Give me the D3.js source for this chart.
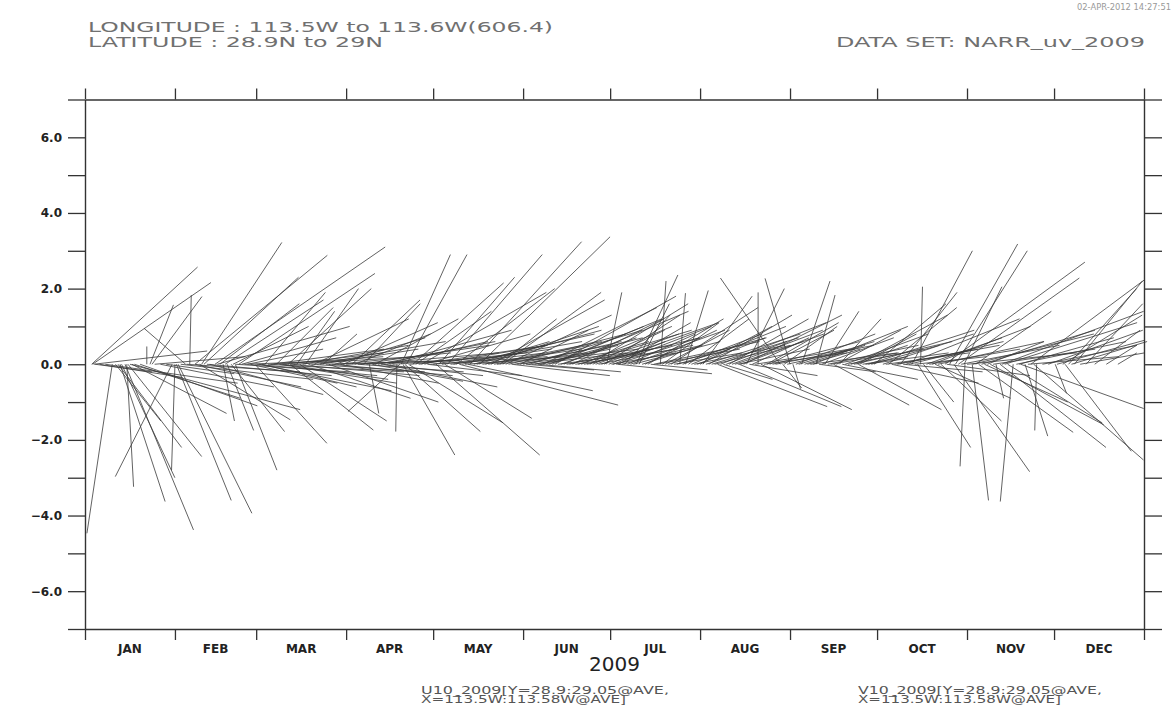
<!DOCTYPE html>
<html>
<head>
<meta charset="utf-8">
<script src="https://cdn.jsdelivr.net/npm/d3@7"></script>
<style>
  body { margin: 0; background: #fff; }
  svg { display: block; }
</style>
</head>
<body>
<svg id="chart" width="1174" height="709"></svg>
<script>
// stick start (day of 2009), u (east) and v (north) components
const stickDay = [2.3, 2.6, 3.0, 3.5, 5, 7, 9.4, 10.5, 11.4, 12.1, 12.6, 13.8, 14.4, 14.8, 15.5, 16.2, 17, 19, 21.3, 22.4,
  23.1, 24, 26, 28, 30, 31, 31.5, 32.1, 34.7, 36.1, 37.9, 39.5, 40.2, 41, 43, 44.8, 45.6, 46.5, 47.6, 48.3,
  49, 50.4, 51, 51.8, 53, 54, 56, 57, 58.6, 60, 62, 64, 66, 68, 70, 70.7, 72, 73, 74, 76,
  77, 79, 80, 82, 84, 87, 89, 92, 93, 95, 96, 98, 100, 103, 105, 107.5, 108.5, 109, 109.6, 110.2,
  110.8, 111.5, 112, 113, 114, 116, 118, 120, 121, 122, 124, 125, 126, 128, 129, 130, 132, 132.7, 134, 136,
  138, 140, 141, 143, 144, 145, 147, 149, 150, 152, 154, 156, 158, 160, 162, 164, 166, 168, 170, 172,
  174, 176, 178, 179.8, 180.5, 183, 183.5, 184, 186, 188, 190, 191, 192, 194, 195, 196, 198.3, 200, 202, 204,
  205, 207, 209, 211, 213, 214, 215, 217, 218, 219, 220, 221, 223, 225, 225.5, 227, 228, 229, 230, 232,
  233, 234, 236, 238, 239.6, 240.5, 241, 243, 244, 246, 247, 249, 251, 252, 253, 255, 257, 258, 260, 261,
  262, 264, 266, 266.5, 268, 270, 272, 275, 277, 278, 279, 281, 283, 285, 287, 288, 289, 290, 292, 293,
  295, 296.4, 298, 299.5, 300, 301, 303, 303.3, 305.8, 307, 308, 309, 310, 311, 312, 314, 315.4, 316, 317, 318,
  319.9, 322, 322.5, 324, 326, 327, 328, 330, 332, 334.4, 335, 337, 337.8, 339, 340, 341, 343, 345, 348, 352,
  356,
  // weaker days, mostly near the zero line
  33, 35, 38, 42, 52, 55, 59, 61, 63, 65, 67, 69, 71, 75, 78, 81, 83, 85, 86, 88,
  90, 94, 97, 99, 101, 102, 104, 106, 115, 117, 119, 123, 127, 131, 135, 137, 139, 142, 146, 148,
  151, 153, 155, 157, 159, 161, 163, 165, 167, 169, 171, 173, 175, 177, 179, 181.5, 182, 185, 187, 189,
  193, 197, 199, 201, 203, 206, 208, 210, 212, 216, 222, 224, 226, 231, 235, 237, 242, 245, 248, 250,
  254, 256, 259, 263, 265, 267, 269, 271, 276, 280, 282, 284, 286, 291, 294, 297, 302, 304, 306, 313,
  321, 325];
const stickU = [2.8, 3.13, 3.0, 1.5, 2.2, 3.5, -0.67, 1.2, 1.68, 1.19, 1.41, 1.81, 0.18, 1.95, 4.5, 2.5, 2.8, 3.1, 0.0, 0.62,
  1.32, 2.4, 3.0, 1.8, -1.5, -0.09, 1.45, 1.95, -1.1, 0.04, 3.5, 2.4, 2.12, 2.5, 3.0, 4.5, 3.5, 2.1, 0.3, 2.6,
  0.7, 1.41, 2.0, 1.1, 3.6, 2.5, 2.0, 2.3, 1.9, 3.5, 1.6, 3.0, 1.5, 2.8, 2.2, 2.2, 3.2, 1.0, 2.3, 1.4,
  2.7, 2.5, 3.4, 0.9, 2.9, 3.0, 2.5, 1.8, 2.0, 3.4, 1.5, 0.25, 2.2, 3.0, 2.6, -0.03, -1.37, 1.3, 1.37, 2.0,
  1.6, 2.5, 3.1, 2.4, 2.0, 3.3, 2.5, 3.0, 2.74, 2.0, 2.3, 2.5, 2.5, 2.6, 4.2, 3.5, 3.3, 2.95, 2.0, 3.45,
  3.0, 3.0, 2.5, 1.5, 2.6, 2.8, 2.6, 3.2, 1.8, 1.8, 2.5, 2.2, 3.0, 2.5, 3.2, 2.0, 2.8, 2.4, 3.0, 1.8,
  2.6, 2.2, 3.1, 0.4, 1.5, 2.2, 2.5, 1.9, 1.2, 2.5, 1.1, 0.8, 1.6, 2.0, 1.5, 2.8, 0.15, 1.7, 2.3, 1.4,
  0.15, 0.6, 2.5, 1.8, 1.3, 2.5, 2.2, 2.0, 2.9, 2.8, 1.3, 1.6, 2.4, 1.9, 2.7, 2.6, 1.0, 1.8, 1.5, 0.0,
  2.4, 2.2, 1.7, 2.6, -1.58, 0.5, 1.4, -0.66, 0.2, 2.0, 0.75, 1.4, 2.5, 0.5, 1.5, 0.9, 1.8, 2.0, 1.1, 2.0,
  2.2, 1.5, 2.4, 2.2, 1.2, 2.8, 1.9, 2.4, 1.8, 2.3, 2.2, 1.5, 3.0, 1.6, 1.4, 0.05, 0.8, 2.0, 2.6, 2.0,
  1.6, 3.7, 1.8, 2.0, 1.9, 3.2, 1.0, -0.13, 0.43, 2.0, 2.5, 3.0, 2.2, 1.5, 3.0, 0.2, 2.8, 3.75, 3.5, 2.5,
  -0.34, 2.5, 3.25, 0.6, 3.0, 2.9, -0.05, 2.5, 2.5, 0.3, 2.3, 2.1, 1.75, 1.8, 2.0, 1.8, 1.7, 1.5, 1.2, 0.8,
  0.5,
  3.5, 3.0, 2.8, 3.3, 3.0, 2.7, 3.2, 2.5, 3.6, 2.9, 3.1, 2.6, 3.4, 2.8, 3.0, 2.6, 3.3, 3.2, 2.4, 2.6,
  3.0, 2.8, 3.5, 2.4, 3.1, 2.7, 3.3, 2.9, 3.4, 2.8, 3.1, 2.9, 3.4, 2.7, 3.3, 2.6, 3.0, 2.4, 3.1, 2.5,
  2.6, 3.0, 2.0, 2.7, 1.9, 2.9, 2.3, 3.3, 2.1, 2.7, 2.4, 3.0, 1.9, 2.5, 2.0, 1.7, 2.6, 2.1, 1.8, 2.3,
  1.9, 2.2, 1.5, 2.6, 1.8, 2.1, 1.6, 2.4, 1.9, 2.3, 2.1, 1.8, 2.2, 2.5, 1.9, 2.3, 1.8, 2.1, 1.6, 2.3,
  1.9, 2.4, 1.7, 2.0, 2.6, 1.5, 2.2, 1.8, 2.2, 2.7, 2.1, 2.5, 1.9, 2.4, 2.8, 2.2, 2.6, 2.9, 3.2, 2.7,
  2.9, 2.4];
const stickV = [2.57, 2.16, 0.35, -0.2, -0.35, -0.5, -4.47, -1.5, -2.2, -3.63, -3.0, -4.38, -3.24, -2.44, -1.2, -1.3, -0.9, -1.1, 0.47, 1.57,
  1.79, 0.2, -0.6, -0.25, -2.97, -2.8, -3.6, -3.94, 0.95, 1.83, 2.88, -1.47, 3.22, 2.3, -0.8, 3.1, 1.0, 1.6, -1.5, 1.7,
  -1.75, -1.78, 1.0, -2.8, 2.4, 0.7, 0.4, -0.5, -2.09, -0.7, 1.9, 0.4, 1.5, -0.4, 2.0, -1.74, 0.2, 1.4, -1.5, 2.0,
  -0.9, 1.2, 0.6, 0.8, -1.0, 0.3, 1.1, 1.7, 0.8, 0.5, 1.6, -1.3, 1.2, -0.6, 0.6, -1.78, -1.25, 2.9, -2.4, -1.78,
  2.9, -1.55, 0.3, 2.15, 1.4, 1.9, -0.3, 0.5, -2.4, 2.3, -1.43, 2.9, 0.3, 2.0, -1.08, 0.8, -0.7, 3.24, 0.6, 3.37,
  1.0, 1.7, 0.5, 1.2, 1.9, 1.3, -0.3, 0.4, 0.9, -0.15, 0.3, -0.2, 1.5, 1.0, 1.8, 0.7, 0.5, 1.2, 0.9, 0.4,
  1.6, 0.8, 1.1, 1.9, 0.6, 0.7, -0.25, 1.1, 1.3, 0.9, 2.36, 1.6, 0.5, 1.2, -0.15, 0.6, 2.2, 0.9, 1.5, 0.4,
  1.88, 1.95, 1.0, 0.7, 1.8, 0.8, 1.3, 0.5, -1.12, 1.1, -0.4, 0.6, 0.9, 0.4, -1.12, 1.3, 2.0, -0.3, 0.7, 1.9,
  -1.2, 0.3, 0.9, 0.5, 2.28, -0.63, 1.0, 2.27, -0.65, 0.6, 2.2, 0.4, 1.0, 1.83, -0.2, 1.4, 0.3, -1.08, 1.2, -0.4,
  0.8, 0.5, 1.3, -1.2, 0.2, 0.9, 1.6, 0.8, 1.5, -0.5, 0.4, 1.9, 1.2, 3.0, -2.2, 2.05, -1.0, 0.7, 1.0, -0.9,
  -1.5, 2.7, 3.18, -2.84, 3.0, 2.28, 2.05, -2.7, -3.6, 1.4, -1.8, 0.9, -1.0, 0.6, -1.6, -0.9, -2.2, 1.4, 1.1, -1.55,
  -3.63, 0.7, -1.17, -1.9, 2.23, -2.53, -1.75, 0.5, 0.9, -0.77, 0.63, 1.3, -2.3, 2.0, 0.6, 2.2, 0.3, 1.6, 0.9, 0.5,
  0.3,
  -0.4, -0.2, -0.6, -0.3, -0.2, 0.1, -0.3, -0.6, -0.2, 0.2, -0.5, 0.3, -0.3, 0.5, -0.2, 0.4, 0.1, -0.3, 0.7, -0.5,
  0.1, -0.2, 0.3, -0.45, 0.6, -0.3, 0.9, 0.2, 0.5, 0.8, 0.2, 0.4, 0.6, 0.2, 0.9, 0.4, 0.6, 0.3, 0.8, 0.5,
  0.6, 0.9, 0.4, 0.7, 0.5, 1.2, 0.3, 1.4, 0.6, 0.4, 1.0, 0.7, 0.9, 0.5, 1.3, 0.3, 1.0, 0.5, 0.8, 0.6,
  0.9, 0.4, 1.1, 0.7, 0.3, 0.8, 1.2, 0.5, 1.0, 0.7, 1.2, 0.6, 0.8, 0.4, 1.1, 0.6, 0.4, 0.8, 0.5, 0.3,
  0.7, 0.5, 0.9, 0.4, 0.6, 0.8, 0.3, 0.5, 0.3, 0.5, -0.2, 0.6, 0.2, 0.4, 0.6, -0.3, 0.5, 0.3, 0.8, 0.4,
  0.6, 0.2];

const monthNames = ["JAN", "FEB", "MAR", "APR", "MAY", "JUN", "JUL", "AUG", "SEP", "OCT", "NOV", "DEC"];
const yTicks = [-7, -6, -5, -4, -3, -2, -1, 0, 1, 2, 3, 4, 5, 6, 7];
const yLabelled = [-6, -4, -2, 0, 2, 4, 6];

const svg = d3.select("#chart");
const LEFT = 85, RIGHT = 1144, TOP = 99.5, BOTTOM = 629;
const axisColor = "#333";

const t0 = Date.UTC(2009, 0, 1);
const dayToDate = d => new Date(t0 + d * 86400000);

const x = d3.scaleUtc()
  .domain([dayToDate(0), new Date(Date.UTC(2010, 0, 1))])
  .range([LEFT, RIGHT]);
const y = d3.scaleLinear().domain([-7, 7]).range([BOTTOM, TOP]);

const monthStarts = d3.range(13).map(m => new Date(Date.UTC(2009, m, 1)));
const monthMids = d3.range(12).map(m => new Date((monthStarts[m].getTime() + monthStarts[m + 1].getTime()) / 2));

// sticks: from (t, 0) to (t + u, v), u drawn with the same px per unit as v
const unit = y(0) - y(1);
const sticks = stickDay.map((d, i) => ({ day: d, u: stickU[i], v: stickV[i] }));

svg.append("g")
  .selectAll("line")
  .data(sticks)
  .join("line")
  .attr("x1", d => x(dayToDate(d.day)))
  .attr("y1", y(0))
  .attr("x2", d => x(dayToDate(d.day)) + d.u * unit)
  .attr("y2", d => y(d.v))
  .attr("stroke", "#3a3a3a")
  .attr("stroke-width", 0.8);

// axes
const fmt = d3.format(".1f");
const leftAxis = d3.axisLeft(y).tickValues(yTicks).tickSize(17).tickSizeOuter(0).tickPadding(6)
  .tickFormat(d => yLabelled.includes(d) ? fmt(d) : "");
const rightAxis = d3.axisRight(y).tickValues(yTicks).tickSize(18).tickSizeOuter(0).tickFormat("");
const topAxis = d3.axisTop(x).tickValues(monthStarts).tickSize(11).tickSizeOuter(0).tickFormat("");
const bottomAxis = d3.axisBottom(x).tickValues(monthStarts).tickSize(11).tickSizeOuter(0).tickFormat("");

const gl = svg.append("g").attr("transform", `translate(${LEFT},0)`).call(leftAxis);
const gr = svg.append("g").attr("transform", `translate(${RIGHT},0)`).call(rightAxis);
const gt = svg.append("g").attr("transform", `translate(0,${TOP})`).call(topAxis);
const gb = svg.append("g").attr("transform", `translate(0,${BOTTOM})`).call(bottomAxis);

[gl, gr, gt, gb].forEach(g => {
  g.selectAll(".domain").attr("stroke", axisColor).attr("stroke-width", 1.4);
  g.selectAll(".tick line").attr("stroke", axisColor).attr("stroke-width", 1.3);
});
gl.selectAll("text")
  .attr("fill", "#222")
  .style("font-family", "DejaVu Sans")
  .style("font-weight", "bold")
  .style("font-size", "12px");

// month labels
svg.append("g")
  .selectAll("text")
  .data(monthNames)
  .join("text")
  .attr("x", (d, i) => x(monthMids[i]))
  .attr("y", 653)
  .attr("text-anchor", "middle")
  .attr("fill", "#222")
  .style("font-family", "DejaVu Sans")
  .style("font-weight", "bold")
  .style("font-size", "12px")
  .text(d => d);

svg.append("text")
  .attr("x", (LEFT + RIGHT) / 2)
  .attr("y", 671)
  .attr("text-anchor", "middle")
  .attr("fill", "#222")
  .style("font-family", "DejaVu Sans")
  .style("font-size", "20px")
  .text("2009");

// header texts
const header = [
  { text: "LONGITUDE : 113.5W to 113.6W(606.4)", x: 88, y: 32, len: 465 },
  { text: "LATITUDE : 28.9N to 29N", x: 88, y: 47, len: 295 },
  { text: "DATA SET: NARR_uv_2009", x: 836, y: 47, len: 309 }
];
svg.append("g")
  .selectAll("text")
  .data(header)
  .join("text")
  .attr("x", d => d.x)
  .attr("y", d => d.y)
  .attr("textLength", d => d.len)
  .attr("lengthAdjust", "spacingAndGlyphs")
  .attr("fill", "#707070")
  .style("font-family", "DejaVu Sans")
  .style("font-size", "14px")
  .text(d => d.text);

// small stamp at the top right
svg.append("text")
  .attr("x", 1077)
  .attr("y", 10)
  .attr("textLength", 94)
  .attr("lengthAdjust", "spacingAndGlyphs")
  .attr("fill", "#999")
  .style("font-family", "DejaVu Sans")
  .style("font-size", "8px")
  .text("02-APR-2012 14:27:51");

// footer variable labels
const footer = [
  { text: "U10_2009[Y=28.9:29.05@AVE,", x: 421, y: 694, len: 248 },
  { text: "X=113.5W:113.58W@AVE]", x: 421, y: 703, len: 205 },
  { text: "V10_2009[Y=28.9:29.05@AVE,", x: 858, y: 694, len: 244 },
  { text: "X=113.5W:113.58W@AVE]", x: 858, y: 703, len: 203 }
];
svg.append("g")
  .selectAll("text")
  .data(footer)
  .join("text")
  .attr("x", d => d.x)
  .attr("y", d => d.y)
  .attr("textLength", d => d.len)
  .attr("lengthAdjust", "spacingAndGlyphs")
  .attr("fill", "#555")
  .style("font-family", "DejaVu Sans")
  .style("font-size", "10px")
  .text(d => d.text);
</script>
</body>
</html>
